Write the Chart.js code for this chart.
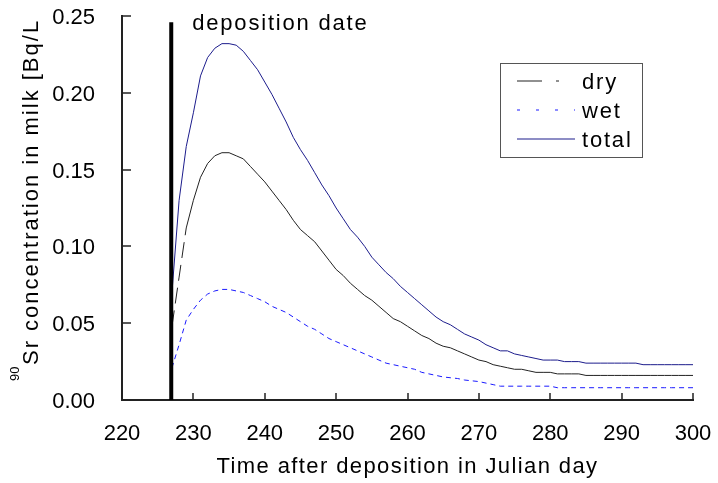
<!DOCTYPE html>
<html>
<head>
<meta charset="utf-8">
<script src="https://cdn.jsdelivr.net/npm/chart.js@4/dist/chart.umd.min.js"></script>
<style>
  body { margin: 0; background: #fff; }
</style>
</head>
<body>
<canvas id="milkChart" width="718" height="483"></canvas>
<script>
// Julian days 227..300
const days = Array.from({ length: 74 }, (_, i) => 227 + i);

const dry = [
  0.048, 0.080, 0.112, 0.130, 0.145, 0.154, 0.159, 0.161, 0.161, 0.159,
  0.157, 0.152, 0.147, 0.142, 0.136, 0.130, 0.124, 0.117, 0.111, 0.107,
  0.103, 0.097, 0.091, 0.085, 0.081, 0.076, 0.072, 0.068, 0.065, 0.061,
  0.057, 0.053, 0.051, 0.048, 0.045, 0.042, 0.040, 0.037, 0.035, 0.034,
  0.032, 0.030, 0.028, 0.026, 0.025, 0.023, 0.022, 0.021, 0.020, 0.020,
  0.019, 0.018, 0.018, 0.018, 0.017, 0.017, 0.017, 0.017, 0.016, 0.016,
  0.016, 0.016, 0.016, 0.016, 0.016, 0.016, 0.016, 0.016, 0.016, 0.016,
  0.016, 0.016, 0.016, 0.016
];

const wet = [
  0.021, 0.036, 0.052, 0.059, 0.065, 0.069, 0.071, 0.072, 0.072, 0.071,
  0.070, 0.068, 0.066, 0.064, 0.061, 0.059, 0.057, 0.054, 0.051, 0.048,
  0.046, 0.043, 0.040, 0.038, 0.036, 0.034, 0.032, 0.030, 0.028, 0.026,
  0.024, 0.023, 0.022, 0.021, 0.020, 0.018, 0.017, 0.016, 0.015, 0.0145,
  0.014, 0.013, 0.0125, 0.012, 0.011, 0.010, 0.009, 0.009, 0.009, 0.009,
  0.009, 0.009, 0.009, 0.009, 0.008, 0.008, 0.008, 0.008, 0.008, 0.008,
  0.008, 0.008, 0.008, 0.008, 0.008, 0.008, 0.008, 0.008, 0.008, 0.008,
  0.008, 0.008, 0.008, 0.008
];

const total = [
  0.070, 0.130, 0.165, 0.187, 0.211, 0.223, 0.229, 0.232, 0.232, 0.231,
  0.227, 0.221, 0.215, 0.207, 0.199, 0.190, 0.181, 0.171, 0.163, 0.156,
  0.148, 0.140, 0.133, 0.125, 0.118, 0.111, 0.106, 0.100, 0.093, 0.088,
  0.083, 0.079, 0.074, 0.070, 0.066, 0.062, 0.058, 0.054, 0.051, 0.049,
  0.046, 0.043, 0.041, 0.039, 0.036, 0.034, 0.032, 0.032, 0.030, 0.029,
  0.028, 0.027, 0.026, 0.026, 0.026, 0.025, 0.025, 0.025, 0.024, 0.024,
  0.024, 0.024, 0.024, 0.024, 0.024, 0.024, 0.023, 0.023, 0.023, 0.023,
  0.023, 0.023, 0.023, 0.023
];

const depositionDay = 226.9;
const depositionTop = 0.246;
const depositionLabel = 'deposition date';
const xTitle = 'Time after deposition in Julian day';
const yTitleIso = '90';
const yTitle = 'Sr concentration in milk [Bq/L';

const FONT = '"Liberation Sans", Arial, sans-serif';

const toPoints = (vals) => vals.map((v, i) => ({ x: days[i], y: v }));

// legend swatch dashes (Excel style)
const legendItems = [
  { label: 'dry', color: '#222', dash: [25, 14, 3, 20] },
  { label: 'wet', color: '#1a1aff', dash: [3, 16] },
  { label: 'total', color: '#1c1c8c', dash: [] },
];

// fixed axis sizes so the plot area matches the reference
const fixBox = (w, h) => s => {
  if (w) s.width = w;
  if (h) s.height = h;
  s.paddingTop = 0;
  s.paddingBottom = 0;
  s.paddingLeft = 0;
  s.paddingRight = 0;
};

const extras = {
  id: 'extras',
  afterDraw(chart) {
    const { ctx, chartArea: a, scales: { x, y } } = chart;
    ctx.save();

    // inward ticks
    ctx.strokeStyle = '#222';
    ctx.lineWidth = 1.5;
    x.ticks.forEach(t => {
      const px = Math.round(x.getPixelForValue(t.value));
      ctx.beginPath();
      ctx.moveTo(px, a.bottom);
      ctx.lineTo(px, a.bottom - 7);
      ctx.stroke();
    });
    y.ticks.forEach(t => {
      const py = Math.round(y.getPixelForValue(t.value));
      ctx.beginPath();
      ctx.moveTo(a.left, py);
      ctx.lineTo(a.left + 9, py);
      ctx.stroke();
    });

    ctx.fillStyle = '#000';
    ctx.font = '22px ' + FONT;
    ctx.letterSpacing = '1.8px';
    ctx.textBaseline = 'alphabetic';

    // deposition label
    ctx.textAlign = 'left';
    ctx.fillText(depositionLabel, x.getPixelForValue(depositionDay) + 21, 30);

    // x title
    ctx.textAlign = 'center';
    ctx.letterSpacing = '1.4px';
    ctx.fillText(xTitle, (a.left + a.right) / 2, 473);

    // y title, rotated, with superscript isotope number
    ctx.save();
    ctx.translate(38, 381);
    ctx.rotate(-Math.PI / 2);
    ctx.textAlign = 'left';
    ctx.font = '13px ' + FONT;
    ctx.letterSpacing = '0px';
    ctx.fillText(yTitleIso, 0, -19);
    ctx.font = '22px ' + FONT;
    ctx.letterSpacing = '2px';
    ctx.fillText(yTitle, 16, 0);
    ctx.restore();

    // legend box
    ctx.letterSpacing = '1.8px';
    ctx.strokeStyle = '#555';
    ctx.lineWidth = 1;
    ctx.strokeRect(500.5, 63.5, 142, 94);
    ctx.textAlign = 'left';
    legendItems.forEach((it, i) => {
      const ly = 81 + i * 29;
      ctx.strokeStyle = it.color;
      ctx.lineWidth = 1.2;
      ctx.setLineDash(it.dash);
      ctx.beginPath();
      ctx.moveTo(517, ly);
      ctx.lineTo(575, ly);
      ctx.stroke();
      ctx.setLineDash([]);
      ctx.fillText(it.label, 582, ly + 8);
    });

    ctx.restore();
  }
};

const ctx = document.getElementById('milkChart').getContext('2d');
const milkChart = new Chart(ctx, {
  type: 'line',
  data: {
    datasets: [
      {
        label: 'deposition',
        data: [{ x: depositionDay, y: 0 }, { x: depositionDay, y: depositionTop }],
        borderColor: '#000',
        borderWidth: 4,
        pointRadius: 0,
      },
      {
        label: 'dry',
        data: toPoints(dry),
        borderColor: '#222',
        borderWidth: 1,
        pointRadius: 0,
        segment: {
          borderDash: c => (c.p0.parsed.x < 229 ? [16, 7] : undefined),
        },
      },
      {
        label: 'wet',
        data: toPoints(wet),
        borderColor: '#1a1aff',
        borderWidth: 1,
        borderDash: [5, 4],
        pointRadius: 0,
      },
      {
        label: 'total',
        data: toPoints(total),
        borderColor: '#1c1c8c',
        borderWidth: 1,
        pointRadius: 0,
      },
    ],
  },
  options: {
    responsive: false,
    animation: false,
    layout: { autoPadding: false, padding: { top: 16, right: 25, left: 0, bottom: 0 } },
    plugins: {
      legend: { display: false },
      title: { display: false },
      tooltip: { enabled: false },
    },
    scales: {
      x: {
        type: 'linear',
        min: 220,
        max: 300,
        afterFit: fixBox(0, 83),
        grid: { display: false, drawTicks: false },
        border: { display: true, color: '#222', width: 2 },
        ticks: {
          stepSize: 10,
          color: '#000',
          padding: 21,
          font: { family: FONT, size: 22 },
        },
      },
      y: {
        min: 0,
        max: 0.25,
        afterFit: fixBox(122, 0),
        grid: { display: false, drawTicks: false },
        border: { display: true, color: '#222', width: 2 },
        ticks: {
          stepSize: 0.05,
          color: '#000',
          padding: 27,
          labelOffset: 2,
          font: { family: FONT, size: 22 },
          callback: v => v.toFixed(2),
        },
      },
    },
  },
  plugins: [extras],
});
</script>
</body>
</html>
